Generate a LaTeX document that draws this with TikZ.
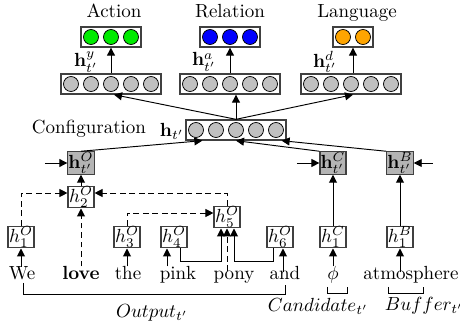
\documentclass[tikz,border=0pt]{standalone}
\usetikzlibrary{arrows.meta,calc}
\definecolor{cgreen}{RGB}{0,235,0}
\definecolor{cblue}{RGB}{0,0,255}
\definecolor{corange}{RGB}{255,165,0}
\definecolor{cgray}{RGB}{192,192,192}
\definecolor{bgray}{RGB}{180,180,180}
\tikzset{
 layer/.style={draw=black!75, line width=0.7pt, fill=white, minimum width=52.63pt, minimum height=10.53pt, inner sep=0pt},
 unit/.style={circle, draw=black, line width=0.4pt, fill=cgray, minimum size=7.9pt, inner sep=0pt},
 hbox/.style={draw=black!75, line width=0.6pt, fill=white, minimum width=13.68pt, minimum height=10.53pt, inner sep=0.3pt},
 gbox/.style={hbox, fill=bgray},
 arr/.style={-{Triangle[length=4.2pt,width=4.2pt]}, line width=0.5pt},
 darr/.style={arr, dash pattern=on 3pt off 2pt},
 plain/.style={line width=0.5pt},
 word/.style={inner sep=0pt, anchor=base},
 lbl/.style={inner sep=0pt}
}
\begin{document}
\begin{tikzpicture}[x=0.5263pt,y=-0.5263pt]
\useasboundingbox (0,0) rectangle (460,325);
% titles
\node[word] (tA) at (114,17) {Action};
\node[word] (tR) at (230,17) {Relation};
\node[word] (tL) at (357,17) {Language};
% output layers
\node[layer, minimum width=31.58pt] (act) at (111,37) {};
\node[layer, minimum width=31.58pt] (rel) at (230,37) {};
\node[layer, minimum width=21.05pt] (lang) at (353,37) {};
\foreach \i in {-1,0,1} {
  \node[unit, fill=cgreen] (act\i) at ($(act.center)+(\i*20,0)$) {};
  \node[unit, fill=cblue] (rel\i) at ($(rel.center)+(\i*20,0)$) {};
}
\node[unit, fill=corange] (lang1) at ($(lang.center)+(-10,0)$) {};
\node[unit, fill=corange] (lang2) at ($(lang.center)+(10,0)$) {};
% hidden layers
\node[layer] (hy) at (111,84) {};
\node[layer] (ha) at (230,84) {};
\node[layer] (hd) at (351,84) {};
\node[layer] (cfg) at (236,130) {};
\foreach \n in {hy,ha,hd,cfg} {
  \foreach \i in {-2,...,2} {
    \node[unit] (\n\i) at ($(\n.center)+(\i*20,0)$) {};
  }
}
\node[lbl] (ly) at (86,62) {$\mathbf{h}^{y}_{t'}$};
\node[lbl] (la) at (204,62) {$\mathbf{h}^{a}_{t'}$};
\node[lbl] (ld) at (325,62) {$\mathbf{h}^{d}_{t'}$};
\node[lbl, anchor=east] (lc) at ($(cfg.west)+(-1,1)$) {$\mathbf{h}_{t'}$};
\node[word] (tC) at (89,134) {Configuration};
% arrows upper
\draw[arr] (act.south |- hy.north) -- (act.south);
\draw[arr] (rel.south |- ha.north) -- (rel.south);
\draw[arr] (lang.south |- hd.north) -- (lang.south);
\draw[arr] (cfg.north) -- ($(hy.south)+(3,0)$);
\draw[arr] (cfg.north) -- (cfg.north |- ha.south);
\draw[arr] (cfg.north) -- (lang.south |- hd.south);
% gray state boxes
\node[gbox] (hOt) at (81,163) {$\mathbf{h}^{O}_{t'}$};
\node[gbox] (hCt) at (333,163) {$\mathbf{h}^{C}_{t'}$};
\node[gbox] (hBt) at (400,163) {$\mathbf{h}^{B}_{t'}$};
\coordinate (inO) at (45,163);
\coordinate (inC) at (297,163);
\coordinate (inB) at (433,163);
\draw[arr] (inO) -- (hOt.west);
\draw[arr] (inC) -- (hCt.west);
\draw[arr] (inB) -- (hBt.east);
\draw[arr] (hOt.north) -- ($(cfg.south west)+(17,0)$);
\draw[arr] (hCt.north west) -- (cfg.south);
\draw[arr] (hBt.north west) -- ($(cfg.south east)+(-5,0)$);
% word-level boxes
\node[hbox] (h1) at (21,237) {$h^{O}_{1}$};
\node[hbox] (h2) at (81,197) {$h^{O}_{2}$};
\node[hbox] (h3) at (127,237) {$h^{O}_{3}$};
\node[hbox] (h4) at (174,237) {$h^{O}_{4}$};
\node[hbox] (h5) at (227,217) {$h^{O}_{5}$};
\node[hbox] (h6) at (280,237) {$h^{O}_{6}$};
\node[hbox] (hC1) at (333,237) {$h^{C}_{1}$};
\node[hbox] (hB1) at (400,237) {$h^{B}_{1}$};
% words
\node[word] (w1) at (22,280) {We};
\node[word] (w2) at (81,280) {\textbf{love}};
\node[word] (w3) at (128,280) {the};
\node[word] (w4) at (178,280) {pink};
\node[word] (w5) at (234,280) {pony};
\node[word] (w6) at (285,280) {and};
\node[word] (w7) at (333,280) {$\phi$};
\node[word] (w8) at (411,280) {atmosphere};
% word arrows
\draw[arr] (w1.north -| h1.south) -- (h1.south);
\draw[arr] (w3.north -| h3.south) -- (h3.south);
\draw[arr] ($(w4.north -| h4.south)+(-7,0)$) -- ($(h4.south)+(-7,0)$);
\draw[arr] ($(w6.north -| h6.south)+(3,6)$) -- ($(h6.south)+(3,0)$);
\draw[arr] (w7.north -| hC1.south) -- (hC1.south);
\draw[arr] ($(w8.north -| hB1.south)+(0,6)$) -- (hB1.south);
\draw[darr] (w2.north) -- (h2.south);
\draw[darr] (w5.north -| h5.south) -- (h5.south);
% dependency arrows
\draw[darr] (h1.north) |- ($(h2.west)+(0,-4)$);
\draw[darr] (h5.north) |- ($(h2.east)+(0,-4)$);
\draw[darr] (h3.north) |- ($(h5.west)+(0,-4)$);
\draw[arr] ($(h4.south)+(6,0)$) -- ++(0,13) -| ($(h5.south)+(-6,0)$);
\draw[arr] ($(h6.south)+(-7,0)$) -- ++(0,13) -| ($(h5.south)+(7,0)$);
\draw[arr] (h2.north) -- (hOt.south);
\draw[arr] (hC1.north) -- (hCt.south);
\draw[arr] (hB1.north) -- (hBt.south);
% brackets
\coordinate (oL) at (23,283);
\coordinate (oR) at (285,285);
\draw[plain] (oL) -- (23,294) -- (285,294) -- (oR);
\draw[plain] (327,287) -- (327,293) -- (347,293) -- (347,287);
\draw[plain] (388,287) -- (388,293) -- (423,293) -- (423,287);
\node[lbl] (tO) at (152,313) {$Output_{t'}$};
\node[lbl] (tCa) at (318,306) {$Candidate_{t'}$};
\node[lbl] (tB) at (424,306) {$Buffer_{t'}$};
\end{tikzpicture}
\end{document}
